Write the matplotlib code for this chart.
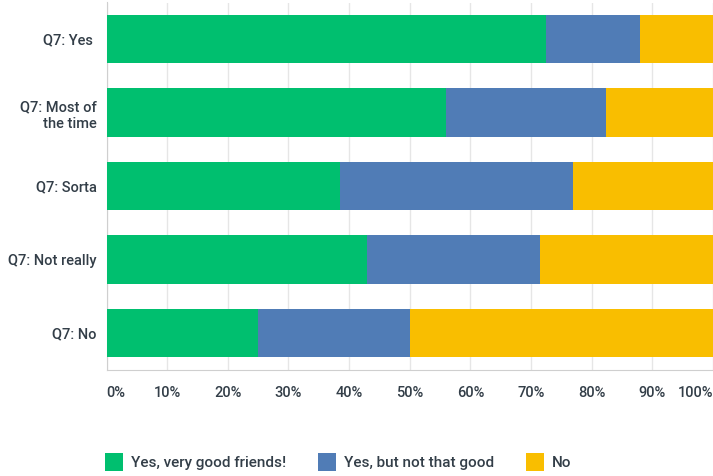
import numpy as np
import matplotlib.pyplot as plt
from matplotlib.patches import Patch

plt.rcParams['font.family'] = ['Roboto', 'DejaVu Sans']
plt.rcParams['font.weight'] = 500

# Kategorie i udziały odpowiedzi (w procentach)
categories = ["Q7: Yes ", "Q7: Most of\nthe time", "Q7: Sorta", "Q7: Not really", "Q7: No"]
very_good = [72.4, 55.9, 38.5, 42.9, 25.0]
not_that_good = [15.6, 26.5, 38.4, 28.6, 25.0]
no_answer = [12.0, 17.6, 23.1, 28.5, 50.0]
series_names = ["Yes, very good friends!", "Yes, but not that good", "No"]
colors = ["#00BF6F", "#507CB6", "#F9BE00"]
tick_values = [0, 10, 20, 30, 40, 50, 60, 70, 80, 90, 100]

text_color = "#333E48"

fig = plt.figure(figsize=(7.13, 4.76), dpi=100)
ax = fig.add_axes([106.5 / 713, 1 - 369.5 / 476, 1 - 106.5 / 713, 367.0 / 476])

y = np.arange(len(categories))
left = np.zeros(len(categories))
for values, color in zip([very_good, not_that_good, no_answer], colors):
    ax.barh(y, values, left=left, height=0.66, color=color, zorder=3)
    left += np.array(values)

ax.set_xlim(0, 100)
ax.set_ylim(len(categories) - 0.5, -0.5)
ax.set_yticks(y)
ax.set_yticklabels(categories, fontsize=10.5, color=text_color, ha="right", linespacing=1.25)
ax.tick_params(axis="y", length=0, pad=7)

ax.set_xticks(tick_values)
ax.set_xticklabels([f"{v}%" for v in tick_values], fontsize=10.5, color=text_color)
ax.tick_params(axis="x", length=0, pad=12)
labels = ax.get_xticklabels()
labels[0].set_ha("left")
labels[-1].set_ha("right")

ax.grid(axis="x", color="#E6E6E6", linewidth=1, zorder=0)
for side in ["top", "right"]:
    ax.spines[side].set_visible(False)
ax.spines["left"].set_color("#CFCFCF")
ax.spines["bottom"].set_color("#CFCFCF")

handles = [Patch(facecolor=c, edgecolor="none") for c in colors]
fig.legend(handles, series_names, loc="center left", bbox_to_anchor=(91 / 713, 1 - 462 / 476),
           ncol=3, frameon=False, fontsize=11, labelcolor=text_color,
           handlelength=1.2, handleheight=1.4, handletextpad=0.5, columnspacing=2.1)

plt.savefig("out.png", dpi=100)
plt.close()
